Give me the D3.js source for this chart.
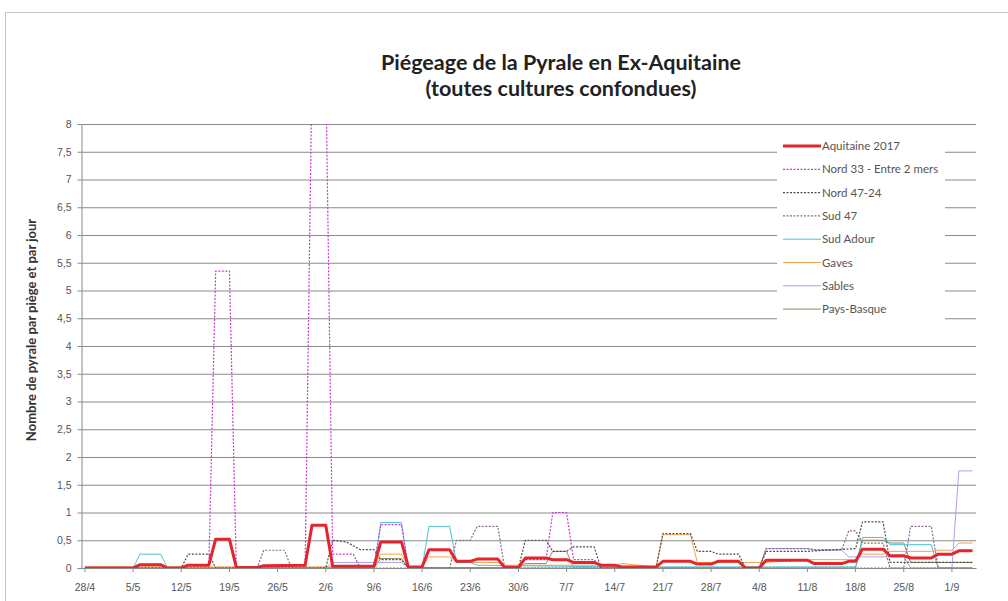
<!DOCTYPE html>
<html lang="fr">
<head>
<meta charset="UTF-8">
<title>Piégeage de la Pyrale en Ex-Aquitaine</title>
<script src="https://cdnjs.cloudflare.com/ajax/libs/d3/7.8.5/d3.min.js"></script>
<style>
  body { margin: 0; background: #fff; }
  svg { font-family: Lato, "Open Sans", sans-serif; }
  .grid line { stroke: #8a8a8a; stroke-width: 1; }
  .grid .domain { display: none; }
  .axis text { fill: #555; font-size: 10.5px; }
  .axis line, .axis path { stroke: #8a8a8a; }
  .title { font-size: 21.5px; font-weight: bold; fill: #222; }
  .ytitle { font-size: 13px; font-weight: bold; fill: #333; }
  .legend text { font-size: 11.5px; fill: #555; }
</style>
</head>
<body>
<svg width="1008" height="601"></svg>
<script>
// categories : un jour par point, du 28/4 au 4/9/2017
const days = d3.timeDay.range(new Date(2017, 3, 28), new Date(2017, 8, 5));
const categories = days.map(d3.timeFormat("%-d/%-m"));
const xTickLabels = ["28/4","5/5","12/5","19/5","26/5","2/6","9/6","16/6","23/6","30/6",
  "7/7","14/7","21/7","28/7","4/8","11/8","18/8","25/8","1/9"];
const yTicks = [0,0.5,1,1.5,2,2.5,3,3.5,4,4.5,5,5.5,6,6.5,7,7.5,8];

// séries : [date, valeur] aux changements de niveau
const aquitaine = [["28/4",0],["5/5",0],["6/5",0.06],["9/5",0.06],["10/5",0],["12/5",0],["13/5",0.05],
  ["16/5",0.05],["17/5",0.52],["19/5",0.52],["20/5",0.01],["23/5",0.01],["24/5",0.04],["30/5",0.05],
  ["31/5",0.77],["2/6",0.77],["3/6",0.03],["9/6",0.03],["10/6",0.47],["13/6",0.47],["14/6",0.02],
  ["16/6",0.02],["17/6",0.33],["20/6",0.33],["21/6",0.12],["23/6",0.12],["24/6",0.16],["27/6",0.16],
  ["28/6",0.01],["30/6",0.01],["1/7",0.18],["4/7",0.18],["5/7",0.15],["7/7",0.15],["8/7",0.1],
  ["11/7",0.1],["12/7",0.05],["14/7",0.05],["15/7",0.02],["20/7",0.02],["21/7",0.12],["25/7",0.12],
  ["26/7",0.07],["28/7",0.07],["29/7",0.12],["1/8",0.12],["2/8",0],["4/8",0],["5/8",0.14],["11/8",0.14],
  ["12/8",0.08],["16/8",0.08],["17/8",0.12],["18/8",0.12],["19/8",0.34],["22/8",0.34],["23/8",0.22],
  ["25/8",0.22],["26/8",0.18],["29/8",0.18],["30/8",0.25],["1/9",0.25],["2/9",0.31],["4/9",0.31]];

const nord33 = [["28/4",0],["16/5",0],["17/5",5.35],["19/5",5.35],["20/5",0],["30/5",0],["31/5",9],
  ["2/6",9],["3/6",0.25],["6/6",0.25],["7/6",0],["9/6",0],["10/6",0.78],["13/6",0.78],["14/6",0],
  ["30/6",0],["1/7",0.15],["4/7",0.15],["5/7",1.0],["7/7",1.0],["8/7",0.15],["11/7",0.15],["12/7",0],
  ["4/9",0]];

const nord4724 = [["28/4",0],["12/5",0],["13/5",0.25],["16/5",0.25],["17/5",0],["2/6",0],["3/6",0.5],
  ["5/6",0.47],["6/6",0.4],["7/6",0.33],["9/6",0.33],["10/6",0.15],["13/6",0.15],["14/6",0],["30/6",0],
  ["1/7",0.5],["4/7",0.5],["5/7",0.3],["7/7",0.3],["8/7",0.38],["11/7",0.38],["12/7",0],["20/7",0],
  ["21/7",0.62],["25/7",0.62],["26/7",0.3],["28/7",0.3],["29/7",0.25],["1/8",0.25],["2/8",0],["4/8",0],
  ["5/8",0.3],["11/8",0.3],["18/8",0.35],["19/8",0.83],["22/8",0.83],["23/8",0.1],["4/9",0.1]];

const sud47 = [["28/4",0],["23/5",0],["24/5",0.32],["27/5",0.32],["28/5",0],["20/6",0],["21/6",0.5],
  ["23/6",0.5],["24/6",0.75],["27/6",0.75],["28/6",0],["4/8",0],["5/8",0.35],["11/8",0.35],
  ["12/8",0.33],["16/8",0.33],["17/8",0.67],["18/8",0.67],["19/8",0.45],["22/8",0.45],["23/8",0],
  ["25/8",0],["26/8",0.75],["29/8",0.75],["30/8",0],["4/9",0]];

const sudAdour = [["28/4",0],["5/5",0],["6/5",0.25],["9/5",0.25],["10/5",0],["9/6",0],["10/6",0.82],
  ["13/6",0.82],["14/6",0],["16/6",0],["17/6",0.75],["20/6",0.75],["21/6",0.1],["23/6",0.1],
  ["24/6",0.05],["14/7",0.02],["18/8",0.02],["19/8",0.55],["22/8",0.55],["23/8",0.42],["29/8",0.42],
  ["30/8",0],["4/9",0]];

const gaves = [["28/4",0.02],["9/6",0.02],["10/6",0.25],["13/6",0.25],["14/6",0.02],["16/6",0.02],
  ["17/6",0.2],["20/6",0.2],["21/6",0.1],["27/6",0.1],["28/6",0.05],["14/7",0.05],["15/7",0.08],
  ["20/7",0.02],["21/7",0.6],["25/7",0.6],["26/7",0.1],["5/8",0.1],["11/8",0.15],["18/8",0.15],
  ["19/8",0.25],["22/8",0.25],["23/8",0.3],["29/8",0.3],["30/8",0.32],["1/9",0.32],["2/9",0.45],
  ["4/9",0.45]];

const sables = [["28/4",0],["2/6",0],["3/6",0.1],["13/6",0.1],["14/6",0],["4/8",0],["5/8",0.35],
  ["11/8",0.35],["12/8",0.32],["16/8",0.32],["17/8",0.2],["25/8",0.2],["26/8",0],["1/9",0],
  ["2/9",1.75],["4/9",1.75]];

const paysBasque = [["28/4",0],["9/6",0],["10/6",0.17],["13/6",0.17],["14/6",0],["30/6",0],["1/7",0.08],
  ["4/7",0.08],["5/7",0.3],["7/7",0.3],["8/7",0],["18/8",0],["19/8",0.5],["22/8",0.5],["23/8",0.45],
  ["25/8",0.45],["26/8",0.1],["4/9",0.1]];

const seriesNames = ["Aquitaine 2017","Nord 33 - Entre 2 mers","Nord 47-24","Sud 47","Sud Adour",
  "Gaves","Sables","Pays-Basque"];
const seriesData = [aquitaine, nord33, nord4724, sud47, sudAdour, gaves, sables, paysBasque];
const colors = ["#e3262d","#c53ccf","#4f4f45","#8a6a8c","#4cc3d6","#f4a24a","#a6a6f0","#8c8c62"];
const widths = [3,1.2,1.2,1.2,1,1,1,1];
const dashes = [null,"2,1.5","2,1.5","2,1.5",null,null,null,null];

let svg = d3.select("svg");
let plotLeft = 81.5, plotRight = 976, plotTop = 124, plotBottom = 568;

// cadre du graphique
svg.append("rect")
  .attr("x", 5.5).attr("y", 12.5)
  .attr("width", 1100).attr("height", 700)
  .attr("fill", "#fff").attr("stroke", "#c4c4c4");

let x = d3.scaleBand().domain(categories).range([plotLeft, plotRight]);
let bw = x.bandwidth();
let y = d3.scaleLinear().domain([0, 8]).range([plotBottom, plotTop]);

// titre
svg.append("text").attr("class", "title")
  .attr("x", 561).attr("y", 70).attr("text-anchor", "middle")
  .text("Piégeage de la Pyrale en Ex-Aquitaine");
svg.append("text").attr("class", "title")
  .attr("x", 561).attr("y", 96).attr("text-anchor", "middle")
  .text("(toutes cultures confondues)");

// grille horizontale
svg.append("g").attr("class", "grid")
  .attr("transform", "translate(" + plotLeft + ",0)")
  .call(d3.axisRight(y).tickValues(yTicks.slice(1)).tickSize(plotRight - plotLeft).tickFormat(""));

// axe Y
svg.append("g").attr("class", "axis")
  .attr("transform", "translate(" + plotLeft + ",0)")
  .call(d3.axisLeft(y).tickValues(yTicks).tickSize(4).tickPadding(6)
    .tickFormat(function(d) { return String(d).replace(".", ","); }));

svg.append("text").attr("class", "ytitle")
  .attr("transform", "translate(36,330) rotate(-90)")
  .attr("text-anchor", "middle")
  .text("Nombre de pyrale par piège et par jour");

// axe X
let xAxis = d3.axisBottom(x).tickValues(xTickLabels).tickSize(4).tickPadding(12).tickSizeOuter(0);
svg.append("g").attr("class", "axis")
  .attr("transform", "translate(0," + plotBottom + ")")
  .call(xAxis);

// courbes
svg.append("clipPath").attr("id", "plot")
  .append("rect").attr("x", plotLeft).attr("y", plotTop)
  .attr("width", plotRight - plotLeft).attr("height", plotBottom - plotTop);

let line = d3.line()
  .x(function(d) { return x(d[0]) + bw / 2; })
  .y(function(d) { return y(d[1]); });

let order = [7, 6, 5, 4, 3, 2, 1, 0];
svg.append("g").attr("clip-path", "url(#plot)")
  .selectAll("path")
  .data(order)
  .enter()
  .append("path")
    .attr("fill", "none")
    .attr("stroke", function(i) { return colors[i]; })
    .attr("stroke-width", function(i) { return widths[i]; })
    .attr("stroke-dasharray", function(i) { return dashes[i]; })
    .attr("stroke-linejoin", "round")
    .attr("d", function(i) { return line(seriesData[i]); });

// légende
let lg = svg.append("g").attr("class", "legend");
lg.append("rect").attr("x", 777).attr("y", 133).attr("width", 168).attr("height", 188).attr("fill", "#fff");
seriesNames.forEach(function(name, i) {
  let ly = 146 + i * 23.3;
  lg.append("line")
    .attr("x1", 783).attr("x2", 821).attr("y1", ly).attr("y2", ly)
    .attr("stroke", colors[i])
    .attr("stroke-width", widths[i])
    .attr("stroke-dasharray", dashes[i]);
  lg.append("text").attr("x", 822).attr("y", ly).attr("dy", "0.35em").text(name);
});
</script>
</body>
</html>
